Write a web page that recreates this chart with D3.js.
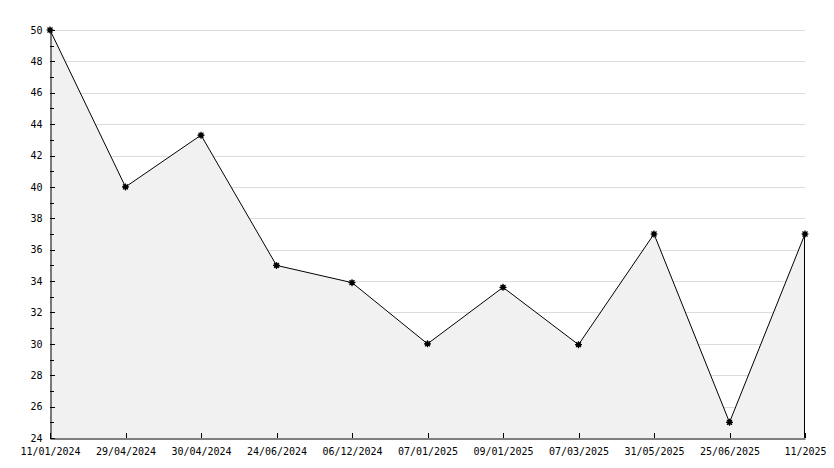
<!DOCTYPE html>
<html>
<head>
<meta charset="utf-8">
<script src="https://cdn.jsdelivr.net/npm/d3@7"></script>
<style>
html,body{margin:0;padding:0;background:#fff;}
svg{display:block;}
</style>
</head>
<body>
<svg id="chart" width="834" height="468"></svg>
<script>
const categories = ["11/01/2024","29/04/2024","30/04/2024","24/06/2024","06/12/2024","07/01/2025","09/01/2025","07/03/2025","31/05/2025","25/06/2025","11/2025"];
const values = [50, 40, 43.3, 35, 33.9, 30, 33.6, 29.95, 37, 25, 37];
const yTicks = [24,26,28,30,32,34,36,38,40,42,44,46,48,50];
const yMinorTicks = [25,27,29,31,33,35,37,39,41,43,45,47,49];

(function(){
const svg = d3.select("#chart");
const pL = 50, pR = 805, pT = 30, pB = 438;
const x = d3.scalePoint().domain(categories).range([pL, pR]);
const y = d3.scaleLinear().domain([24, 50]).range([pB, pT]);
const font = "'DejaVu Sans Mono', monospace";

// grid
svg.append("g").selectAll("line").data(yTicks.filter(d => d > 24)).join("line")
  .attr("x1", pL).attr("x2", pR)
  .attr("y1", d => Math.round(y(d)) + 0.5).attr("y2", d => Math.round(y(d)) + 0.5)
  .attr("stroke", "#dcdcdc").attr("stroke-width", 1);

const data = categories.map((c, i) => ({c, v: values[i]}));

// area
const area = d3.area().x(d => x(d.c)).y0(pB).y1(d => y(d.v));
svg.append("path").datum(data).attr("d", area).attr("fill", "#f1f1f1").attr("stroke", "none");

// right edge of area
const lastX = x(categories[categories.length-1]);
svg.append("line")
  .attr("x1", lastX - 0.5).attr("x2", lastX - 0.5)
  .attr("y1", y(values[values.length-1])).attr("y2", pB)
  .attr("stroke", "#000").attr("stroke-width", 1);

// line
const line = d3.line().x(d => x(d.c)).y(d => y(d.v));
svg.append("path").datum(data).attr("d", line).attr("fill", "none").attr("stroke", "#000").attr("stroke-width", 1);

// y axis
const yAxis = d3.axisLeft(y).tickValues(yTicks).tickSize(0).tickPadding(8).tickFormat(d3.format("d"));
const gy = svg.append("g").attr("transform", `translate(${pL + 0.5},0)`).call(yAxis);
gy.select(".domain").attr("stroke", "#000");
gy.selectAll("text").attr("font-family", font).attr("font-size", 10).attr("fill", "#000");
svg.append("g").selectAll("line").data(yTicks).join("line")
  .attr("x1", pL).attr("x2", pL + 5)
  .attr("y1", d => Math.round(y(d)) + 0.5).attr("y2", d => Math.round(y(d)) + 0.5)
  .attr("stroke", "#000");
svg.append("g").selectAll("line").data(yMinorTicks).join("line")
  .attr("x1", pL).attr("x2", pL + 4)
  .attr("y1", d => Math.round(y(d)) + 0.5).attr("y2", d => Math.round(y(d)) + 0.5)
  .attr("stroke", "#000");

// x axis
const xAxis = d3.axisBottom(x).tickSize(0).tickPadding(9);
const gx = svg.append("g").attr("transform", `translate(0,${pB + 0.5})`).call(xAxis);
gx.select(".domain").attr("stroke", "#000");
gx.selectAll("text").attr("font-family", font).attr("font-size", 10).attr("fill", "#000");
svg.append("g").selectAll("line").data(categories).join("line")
  .attr("x1", d => Math.round(x(d)) + 0.5).attr("x2", d => Math.round(x(d)) + 0.5)
  .attr("y1", pB - 5).attr("y2", pB)
  .attr("stroke", "#000");

// markers
const mk = svg.append("g").selectAll("g").data(data).join("g")
  .attr("transform", d => `translate(${x(d.c)},${y(d.v)})`);
mk.append("circle").attr("r", 2.5).attr("fill", "#000");
mk.append("path").attr("d", "M-3.5,0H3.5M0,-3.5V3.5M-2.5,-2.5L2.5,2.5M-2.5,2.5L2.5,-2.5")
  .attr("stroke", "#000").attr("stroke-width", 1.2);
})();
</script>
</body>
</html>
